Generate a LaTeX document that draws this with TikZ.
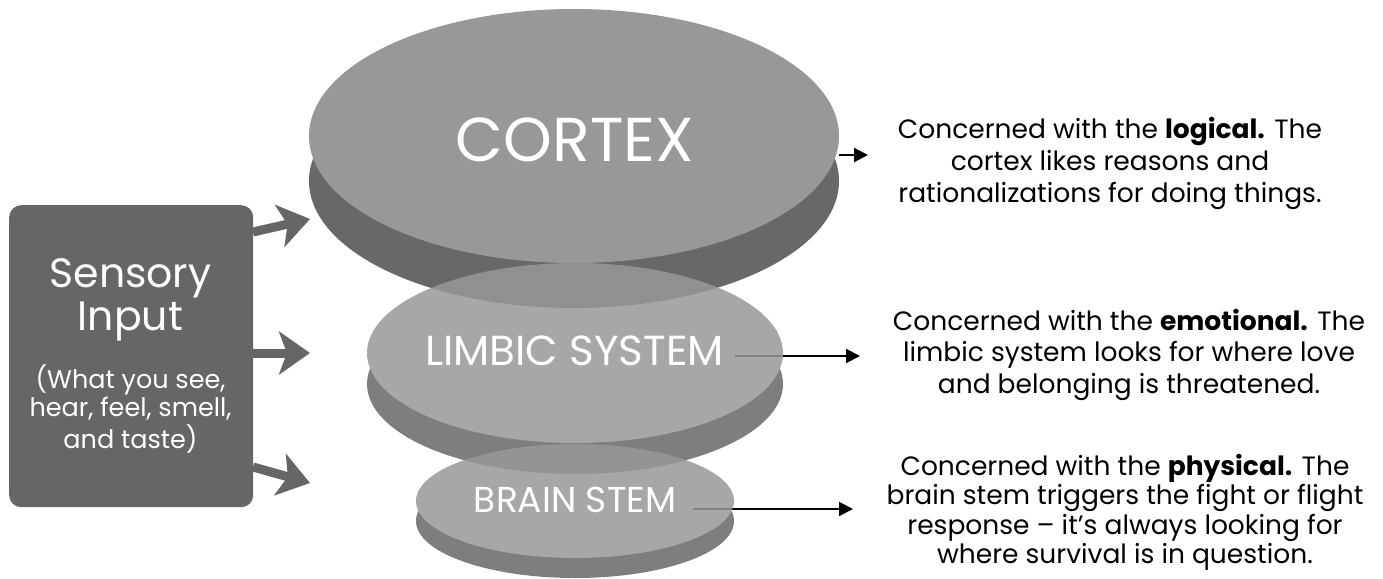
\documentclass[tikz,border=0pt]{standalone}
\usepackage{fontspec}
\setmainfont{Poppins}
\usetikzlibrary{arrows.meta}
\definecolor{topgray}{HTML}{989898}
\definecolor{rimgray}{HTML}{686868}
\definecolor{boxgray}{HTML}{666666}
\begin{document}
\begin{tikzpicture}[x=1pt,y=-1pt,
  rim/.style={fill=rimgray},
  lid/.style={fill=topgray},
  disklabel/.style={text=white, inner sep=0, anchor=base},
  desc/.style={inner sep=0, anchor=base},
  feed/.style={draw=boxgray, line width=9pt, -{Stealth[length=31pt,width=43pt,inset=8pt]}},
  pointer/.style={draw=black, line width=2pt, -{Triangle[length=14pt,width=14pt]}}]
\useasboundingbox[fill=white] (0,0) rectangle (1383,578);

% sensory input panel
\node[fill=boxgray, rounded corners=12pt, minimum width=244pt, minimum height=302pt,
      inner sep=0, anchor=north west] (sens) at (9,205) {};
\node[disklabel, font=\fontsize{41}{48}\selectfont] (sensA) at (130.5,287) {Sensory};
\node[disklabel, font=\fontsize{41}{48}\selectfont] (sensB) at (130.5,330) {Input};
\node[disklabel, font=\fontsize{25.5}{28}\selectfont] (sensC) at (130.5,388)
  {\begin{tabular}[t]{@{}c@{}}(What you see,\\ hear, feel, smell,\\ and taste)\end{tabular}};

% feed arrows from the panel towards the brain
\coordinate (s1) at (253,232); \coordinate (t1) at (310,219);
\coordinate (s2) at (253,353); \coordinate (t2) at (310,353);
\coordinate (s3) at (253,467); \coordinate (t3) at (310,483);
\draw[feed] (s1) -- (t1);
\draw[feed] (s2) -- (t2);
\draw[feed] (s3) -- (t3);

% pointers from the lower disks (they run beneath the translucent disks)
\coordinate (p2) at (735,356); \coordinate (q2) at (860,356);
\coordinate (p3) at (693,509); \coordinate (q3) at (853,509);
\draw[pointer] (p2) -- (q2);
\draw[pointer] (p3) -- (q3);

% cortex disk
\fill[rim] (574,181) ellipse [x radius=265pt, y radius=127pt];
\fill[lid] (574,136) ellipse [x radius=265pt, y radius=127pt];

% limbic disk
\begin{scope}[transparency group, opacity=0.85]
  \fill[rim] (575,384) ellipse [x radius=208pt, y radius=90pt];
  \fill[lid] (575,353) ellipse [x radius=208pt, y radius=90pt];
\end{scope}

% brain stem disk
\begin{scope}[transparency group, opacity=0.85]
  \fill[rim] (575,521) ellipse [x radius=159pt, y radius=57pt];
  \fill[lid] (575,501) ellipse [x radius=159pt, y radius=57pt];
\end{scope}

\node[disklabel, font=\fontsize{62}{66}\selectfont] (cortex) at (575,161) {CORTEX};
\node[disklabel, font=\fontsize{42}{46}\selectfont] (limbic) at (574.5,365) {LIMBIC SYSTEM};
\node[disklabel, font=\fontsize{36}{40}\selectfont] (stem) at (575,512) {BRAIN STEM};

% cortex pointer
\coordinate (p1) at (839,155); \coordinate (q1) at (868,155);
\draw[pointer] (p1) -- (q1);

% descriptions
\node[desc, font=\fontsize{26.5}{32}\selectfont] (logic) at (1110,138)
  {\begin{tabular}[t]{@{}c@{}}Concerned with the \textbf{logical.} The\\ cortex likes reasons and\\ rationalizations for doing things.\end{tabular}};
\node[desc, font=\fontsize{26.5}{31.5}\selectfont] (emot) at (1129,330)
  {\begin{tabular}[t]{@{}c@{}}Concerned with the \textbf{emotional.} The\\ limbic system looks for where love\\ and belonging is threatened.\end{tabular}};
\node[desc, font=\fontsize{26.5}{29.5}\selectfont] (phys) at (1125,475)
  {\begin{tabular}[t]{@{}c@{}}Concerned with the \textbf{physical.} The\\ brain stem triggers the fight or flight\\ response – it’s always looking for\\ where survival is in question.\end{tabular}};
\end{tikzpicture}
\end{document}
